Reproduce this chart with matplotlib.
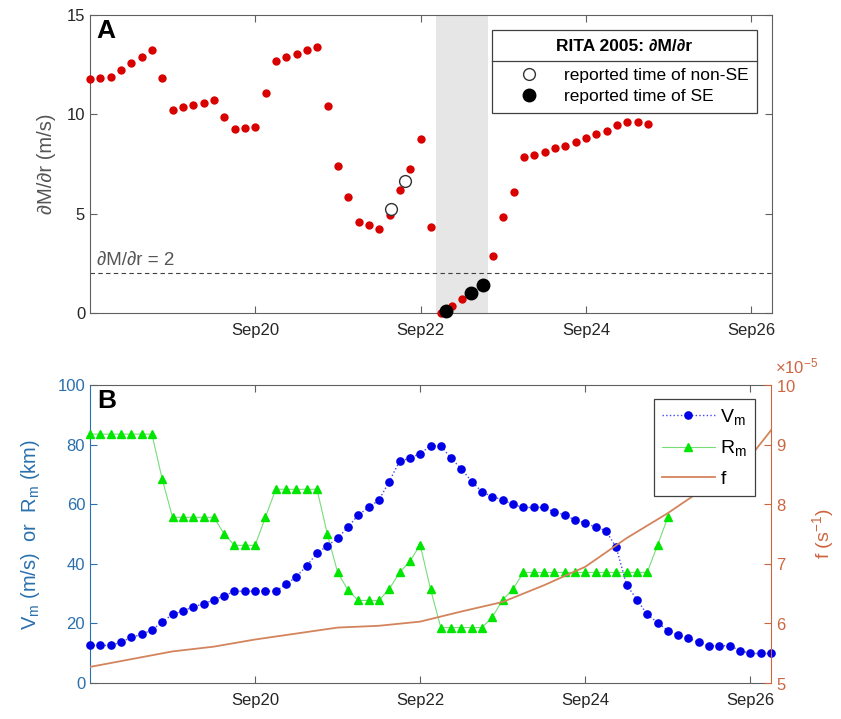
import numpy as np
import matplotlib
matplotlib.use('Agg')
import matplotlib.pyplot as plt
import matplotlib.dates as mdates
import matplotlib.transforms as mtransforms
from matplotlib.ticker import ScalarFormatter, FixedLocator
from matplotlib.lines import Line2D

plt.rcParams['font.family'] = ['Liberation Sans', 'DejaVu Sans']
plt.rcParams['mathtext.fontset'] = 'custom'
plt.rcParams['mathtext.rm'] = 'Liberation Sans'
plt.rcParams['mathtext.it'] = 'Liberation Sans:italic'

# ---------------- data ----------------
start = np.datetime64('2005-09-18T00:00')
step = np.timedelta64(3, 'h')

# Panel A: dM/dr (m/s), 3-hourly from Sep18 00Z
dMdr = [11.78, 11.83, 11.90, 12.22, 12.60, 12.89, 13.26, 11.83, 10.24, 10.37,
        10.49, 10.59, 10.73, 9.87, 9.28, 9.33, 9.35, 11.08, 12.69, 12.87,
        13.06, 13.24, 13.41, 10.44, 7.42, 5.85, 4.58, 4.41, 4.24, 4.94,
        6.20, 7.24, 8.75, 4.32, 0.00, 0.33, 0.69, 1.02, 1.41, 2.88,
        4.82, 6.11, 7.87, 7.96, 8.09, 8.29, 8.43, 8.63, 8.83, 9.00,
        9.18, 9.45, 9.61, 9.63, 9.51]

nonSE_times = ['2005-09-21T15:30', '2005-09-21T19:20']
nonSE_vals = [5.25, 6.65]
SE_times = ['2005-09-22T07:25', '2005-09-22T14:40', '2005-09-22T18:00']
SE_vals = [0.08, 1.02, 1.42]
shade_span = ['2005-09-22T04:30', '2005-09-22T19:30']
threshold = 2

# Panel B
Vm = [12.6, 12.6, 12.6, 13.7, 15.3, 16.3, 17.8, 20.4, 23.1, 24.1,
      25.6, 26.5, 28.0, 29.2, 30.8, 30.8, 30.8, 30.8, 30.8, 33.1,
      35.7, 39.3, 43.6, 46.0, 48.6, 52.3, 56.4, 58.9, 61.4, 67.6,
      74.4, 75.4, 77.0, 79.6, 79.6, 75.4, 71.8, 67.6, 64.1, 62.5,
      61.5, 59.9, 58.9, 58.9, 58.9, 57.4, 56.4, 54.7, 53.7, 52.3,
      51.1, 45.5, 33.0, 28.0, 23.0, 20.3, 17.6, 16.0, 15.0, 13.6,
      12.5, 12.5, 12.5, 10.9, 9.9, 9.9, 9.9]

Rm = [83.5, 83.5, 83.5, 83.5, 83.5, 83.5, 83.5, 68.4, 55.6, 55.6,
      55.6, 55.6, 55.6, 50.0, 46.2, 46.2, 46.2, 55.6, 65.0, 65.0,
      65.0, 65.0, 65.0, 50.0, 37.1, 31.2, 27.7, 27.7, 27.7, 31.5,
      37.1, 40.8, 46.4, 31.5, 18.6, 18.6, 18.6, 18.6, 18.6, 22.2,
      27.9, 31.5, 37.1, 37.1, 37.1, 37.1, 37.1, 37.1, 37.1, 37.1,
      37.1, 37.1, 37.1, 37.1, 37.1, 46.2, 55.6]

# Coriolis parameter (x1e-5 s^-1), 12-hourly + final point
f_times = ['2005-09-18T00', '2005-09-18T12', '2005-09-19T00', '2005-09-19T12',
           '2005-09-20T00', '2005-09-20T12', '2005-09-21T00', '2005-09-21T12',
           '2005-09-22T00', '2005-09-22T12', '2005-09-23T00', '2005-09-23T12',
           '2005-09-24T00', '2005-09-24T12', '2005-09-25T00', '2005-09-25T12',
           '2005-09-26T00', '2005-09-26T06']
f_e5 = [5.27, 5.40, 5.53, 5.61, 5.73, 5.83, 5.93, 5.96, 6.03, 6.20,
        6.36, 6.64, 6.95, 7.43, 7.85, 8.32, 8.80, 9.24]

xlim = ['2005-09-18T00:00', '2005-09-26T06:00']
xtick_days = ['2005-09-20', '2005-09-22', '2005-09-24', '2005-09-26']

# ---------------- conversions ----------------
def tt(lst):
    return np.array(lst, dtype='datetime64[m]')

t_dMdr = start + np.arange(len(dMdr)) * step
t_Vm = start + np.arange(len(Vm)) * step
t_Rm = start + np.arange(len(Rm)) * step
f_vals = np.array(f_e5) * 1e-5

gray_axis = '#606060'
tick_txt = '#262626'
blue_ax = '#2A70AE'
orange_ax = '#CC6640'

fig = plt.figure(figsize=(8.41, 7.19), dpi=100)
W, H = 841, 719
axA = fig.add_axes([90 / W, 1 - 313 / H, 682 / W, 298 / H])
axB = fig.add_axes([90 / W, 1 - 683 / H, 681 / W, 298 / H])

date_fmt = mdates.DateFormatter('%b%d')

def style_x(ax):
    ax.set_xlim(tt(xlim)[0], tt(xlim)[1])
    ax.xaxis.set_major_locator(FixedLocator(mdates.date2num(tt(xtick_days))))
    ax.xaxis.set_major_formatter(date_fmt)

# ---------------- Panel A ----------------
axA.axvspan(tt(shade_span)[0], tt(shade_span)[1], color='#e6e6e6', lw=0, zorder=0)
axA.axhline(threshold, color='#404040', ls=(0, (4, 3)), lw=0.8, zorder=1)
axA.text(0.01, threshold + 0.22, '∂M/∂r = 2',
         transform=mtransforms.blended_transform_factory(axA.transAxes, axA.transData),
         fontsize=13.5, color='#555555', ha='left', va='bottom')
axA.plot(t_dMdr, dMdr, 'o', color='#d90000', ms=6, mec='none', zorder=3, clip_on=False)
h_non, = axA.plot(tt(nonSE_times), nonSE_vals, 'o', mfc='white', mec='#333333', mew=1.0, ms=8.5,
                  zorder=4, label='reported time of non-SE')
h_se, = axA.plot(tt(SE_times), SE_vals, 'o', color='black', ms=9, zorder=5, clip_on=False,
                 label='reported time of SE')
axA.set_ylim(0, 15)
axA.set_yticks([0, 5, 10, 15])
style_x(axA)
axA.set_ylabel('∂M/∂r (m/s)', fontsize=14.5, color='#555555', labelpad=8)
axA.tick_params(direction='in', top=True, right=True, length=5, width=0.8, colors=gray_axis,
                labelcolor=tick_txt, labelsize=12)
axA.tick_params(axis='x', pad=7)
for s in axA.spines.values():
    s.set_color(gray_axis)
    s.set_linewidth(0.8)
axA.text(0.01, 0.985, 'A', transform=axA.transAxes, fontsize=19, fontweight='bold', va='top', ha='left')

legA = axA.legend(handles=[h_non, h_se], title='RITA 2005: ∂M/∂r', loc='upper right',
                  bbox_to_anchor=(0.978, 0.95), frameon=True, fancybox=False, framealpha=1,
                  edgecolor='#404040', fontsize=12.5, title_fontsize=12.5, handlelength=3.3,
                  handletextpad=0.35, borderpad=0.5, labelspacing=0.35, borderaxespad=0)
legA.get_title().set_fontweight('bold')
legA.get_frame().set_linewidth(0.9)
legA._legend_box.sep = 10
legA.set_zorder(10)

# ---------------- Panel B ----------------
axB2 = axB.twinx()
hV, = axB.plot(t_Vm, Vm, ls=':', lw=1.0, color='#4646f0', marker='o', ms=5.2, mfc='#0000e6', mec='#0000e6',
               label='V$_{\\rm m}$', zorder=4, clip_on=False)
hR, = axB.plot(t_Rm, Rm, ls='-', lw=0.8, color='#77dd77', marker='^', ms=5.5, mfc='#00e600', mec='#00e600',
               label='R$_{\\rm m}$', zorder=3, clip_on=False)
hF, = axB2.plot(tt(f_times), f_vals, '-', color='#D4845C', lw=1.3, label='f')
axB.set_ylim(0, 100)
axB.set_yticks(np.arange(0, 101, 20))
axB2.set_ylim(5e-5, 10e-5)
axB2.set_yticks(np.arange(5, 11) * 1e-5)
fmt = ScalarFormatter(useMathText=True)
fmt.set_powerlimits((-5, -5))
axB2.yaxis.set_major_formatter(fmt)
axB2.yaxis.get_offset_text().set_visible(False)
style_x(axB)
style_x(axB2)

axB.tick_params(direction='in', top=True, length=5, width=0.8, colors=gray_axis, labelcolor=tick_txt,
                labelsize=12)
axB.tick_params(axis='x', pad=7)
axB.tick_params(axis='y', colors=blue_ax, labelcolor=blue_ax, right=False)
axB2.tick_params(axis='y', direction='in', length=5, width=0.8, colors=orange_ax, labelcolor=orange_ax,
                 labelsize=12)
for s in axB.spines.values():
    s.set_color(gray_axis)
    s.set_linewidth(0.8)
axB.spines['left'].set_color(blue_ax)
axB.spines['right'].set_visible(False)
for k in ['left', 'top', 'bottom']:
    axB2.spines[k].set_visible(False)
axB2.spines['right'].set_color(orange_ax)
axB2.spines['right'].set_linewidth(0.8)
axB2.annotate('×10$^{-5}$', xy=(1, 1), xycoords='axes fraction', xytext=(3, 6),
              textcoords='offset points', ha='left', va='bottom', fontsize=12, color=orange_ax)

axB.set_ylabel('V$_{\\rm m}$ (m/s)  or  R$_{\\rm m}$ (km)', fontsize=14.5, color=blue_ax, labelpad=11)
axB2.set_ylabel('f (s$^{-1}$)', fontsize=14, color=orange_ax, labelpad=10)
axB.text(0.01, 0.985, 'B', transform=axB.transAxes, fontsize=19, fontweight='bold', va='top', ha='left')

legB = axB2.legend(handles=[hV, hR, hF], loc='upper right', bbox_to_anchor=(0.9765, 0.953),
                   frameon=True, fancybox=False, framealpha=1, edgecolor='#404040', fontsize=14,
                   handlelength=2.7, handletextpad=0.3, borderpad=0.4, labelspacing=0.6, borderaxespad=0)
legB.get_frame().set_linewidth(0.9)

# separator line under legend title in panel A
fig.canvas.draw()
r = fig.canvas.get_renderer()
lb = legA.get_window_extent(r)
tb = legA.get_title().get_window_extent(r)
hb = legA._legend_handle_box.get_window_extent(r)
ysep = 0.5 * (tb.y0 + hb.y1) / fig.bbox.height
fig.add_artist(Line2D([lb.x0 / fig.bbox.width, lb.x1 / fig.bbox.width], [ysep, ysep],
                      color='#404040', lw=0.9, zorder=20))

fig.savefig('out.png', dpi=100)
